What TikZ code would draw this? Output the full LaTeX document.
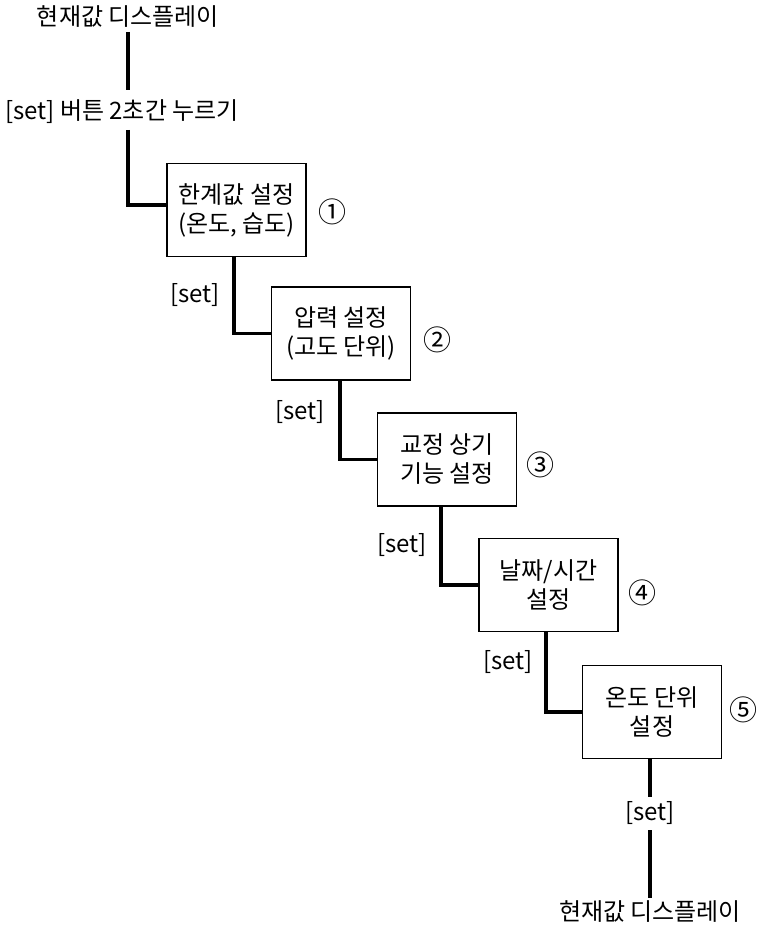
\documentclass[tikz,border=0pt]{standalone}
\usepackage{fontspec}
\newfontfamily\kr{Noto Sans CJK KR}
\begin{document}
\begin{tikzpicture}[x=1pt,y=-1pt,
  every node/.style={font=\kr\fontsize{24}{29}\selectfont, inner sep=0pt},
  stepbox/.style={draw, line width=1.8pt, minimum width=139pt, minimum height=93pt, align=center},
  conn/.style={line width=3.2pt},
  num/.style={font=\kr\fontsize{28}{30}\selectfont}]
\useasboundingbox (0,0) rectangle (757,928);
\node (top) at (128,17) {현재값 디스플레이};
\node (press) at (122,112) {[set] 버튼 2초간 누르기};
\node[stepbox] (b1) at (236.5,210) {한계값 설정\\(온도, 습도)};
\node[stepbox] (b2) at (341,333.5) {압력 설정\\(고도 단위)};
\node[stepbox] (b3) at (447,459.5) {교정 상기\\기능 설정};
\node[stepbox] (b4) at (548.5,585) {날짜/시간\\설정};
\node[stepbox] (b5) at (652,712) {온도 단위\\설정};
\node[num] (n1) at (332,212) {①};
\node[num] (n2) at (437,340) {②};
\node[num] (n3) at (540,465) {③};
\node[num] (n4) at (642,593) {④};
\node[num] (n5) at (743,710) {⑤};
\node (s1) at (195,295) {[set]};
\node (s2) at (300,412) {[set]};
\node (s3) at (402,545) {[set]};
\node (s4) at (508,662) {[set]};
\node (s5) at (650,813) {[set]};
\node (bot) at (650,912) {현재값 디스플레이};
\coordinate (t1) at (128,32);
\coordinate (t2) at (128,90);
\coordinate (t3) at (128,130);
\coordinate (e1) at (650,797);
\coordinate (e2) at (650,830);
\coordinate (e3) at (650,898);
\draw[conn] (t1) -- (t2);
\draw[conn] (t3) |- ([yshift=5pt]b1.west);
\draw[conn] ([xshift=-2.5pt]b1.south) |- (b2.west);
\draw[conn] ([xshift=-1pt]b2.south) |- (b3.west);
\draw[conn] ([xshift=-6pt]b3.south) |- (b4.west);
\draw[conn] ([xshift=-2.5pt]b4.south) |- (b5.west);
\draw[conn] (b5.south -| e1) -- (e1);
\draw[conn] (e2) -- (e3);
\end{tikzpicture}
\end{document}
